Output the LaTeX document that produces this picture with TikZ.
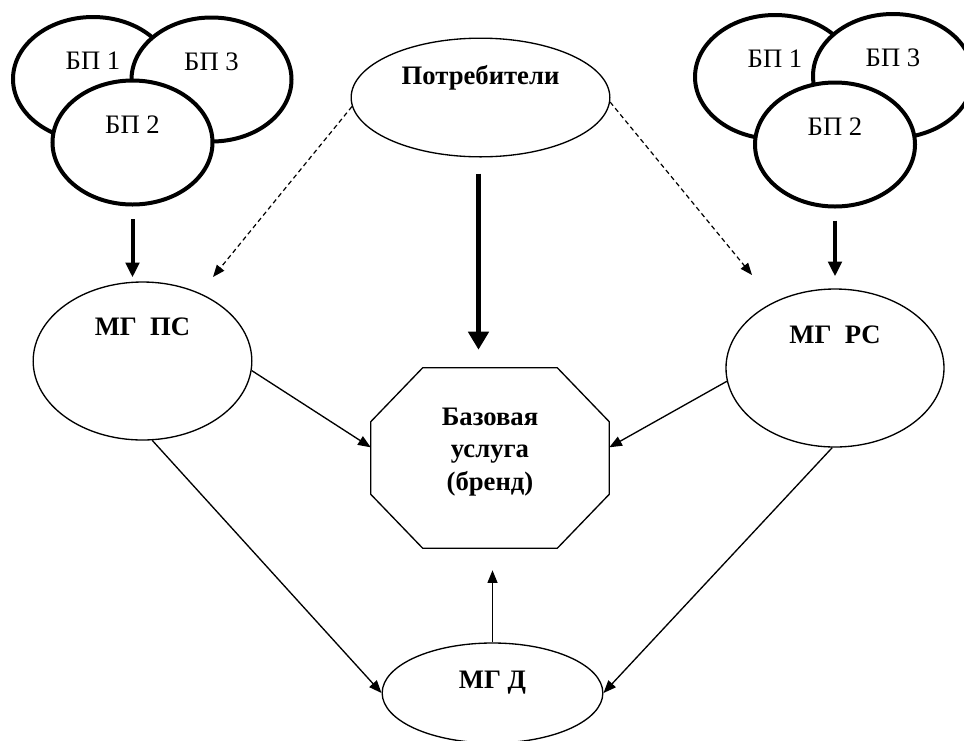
\documentclass[tikz,border=0pt]{standalone}
\usepackage{fontspec}
\setmainfont{Liberation Serif}
\newfontfamily\timesfont{Liberation Serif}
\usetikzlibrary{shapes.geometric,arrows.meta}

\begin{document}
\begin{tikzpicture}[x=0.75pt, y=-0.75pt,
    bp/.style={draw, ellipse, line width=3pt, fill=white, minimum width=120pt, minimum height=93pt, inner sep=0pt},
    mg/.style={draw, ellipse, line width=1pt, fill=white, inner sep=0pt},
    txt/.style={font=\timesfont\fontsize{20}{24}\selectfont},
    bold/.style={font=\timesfont\fontsize{20}{24.5}\selectfont\bfseries, align=center},
    thinarrow/.style={-{Triangle[length=9.5pt,width=7.5pt]}, line width=1pt},
    bigarrow/.style={-{Triangle[length=11pt,width=10pt]}, line width=3pt},
    hugearrow/.style={-{Triangle[length=13.5pt,width=15pt]}, line width=3.8pt},
    dasharrow/.style={-{Triangle[length=9pt,width=7pt]}, line width=0.9pt, dash pattern=on 3.5pt off 2.5pt}]
    \useasboundingbox (0,0) rectangle (964,740);
    % Left cluster
    \node [bp, label={[txt, yshift=13.5pt]center:БП 1}] (lb1) at (93,79) {};
    \node [bp, label={[txt, yshift=13.5pt]center:БП 3}] (lb3) at (211.5,79.5) {};
    \node [bp, label={[txt, yshift=13.5pt]center:БП 2}] (lb2) at (132.5,142.5) {};
    % Right cluster
    \node [bp, label={[txt, yshift=13.5pt]center:БП 1}] (rb1) at (775,77) {};
    \node [bp, label={[txt, yshift=13.5pt]center:БП 3}] (rb3) at (893,76) {};
    \node [bp, label={[txt, yshift=13.5pt]center:БП 2}] (rb2) at (835,144.5) {};
    % Main nodes
    \node [mg, minimum width=194pt, minimum height=89pt, label={[bold, yshift=14.5pt]center:Потребители}] (potr) at (480.5,97.5) {};
    \node [mg, minimum width=164pt, minimum height=118.5pt, label={[bold, yshift=25.5pt]center:МГ\ \ ПС}] (mgps) at (142.5,361) {};
    \node [mg, minimum width=163.5pt, minimum height=118.5pt, label={[bold, yshift=25pt]center:МГ\ \ РС}] (mgrs) at (835,368) {};
    \node [mg, minimum width=165.5pt, minimum height=75pt, label={[bold, yshift=8pt]center:МГ Д}] (mgd) at (492.5,693) {};
    \node [minimum width=178.5pt, minimum height=135pt, inner sep=0pt,
        label={[bold, yshift=4.5pt]center:Базовая\\услуга\\(бренд)}] (oct) at (490,458) {};
    \draw [line width=1pt] ([xshift=39pt]oct.north west) -- ([xshift=-39pt]oct.north east)
        -- ([yshift=-40.5pt]oct.north east) -- ([yshift=40.5pt]oct.south east)
        -- ([xshift=-39pt]oct.south east) -- ([xshift=39pt]oct.south west)
        -- ([yshift=40.5pt]oct.south west) -- ([yshift=-40.5pt]oct.north west) -- cycle;
    % Arrows
    \draw [bigarrow, shorten <=9.5pt, shorten >=3pt] (lb2.south) -- (lb2.south |- mgps.north);
    \draw [bigarrow, shorten <=9pt, shorten >=9pt] (rb2.south) -- (rb2.south |- mgrs.north);
    \draw [hugearrow, shorten <=12pt, shorten >=13.5pt] ([xshift=-1.5pt]potr.south) -- ([xshift=-1.5pt]potr.south |- oct.north);
    \coordinate (dl) at (213,277);
    \coordinate (dr) at (752,275);
    \draw [dasharrow] (potr.184) -- (dl);
    \draw [dasharrow] (potr.358) -- (dr);
    \draw [thinarrow] (mgps.-5) -- ([yshift=8pt]oct.west);
    \draw [thinarrow] (mgrs.187) -- ([yshift=8pt]oct.east);
    \draw [thinarrow] (mgps.277) -- (mgd.west);
    \draw [thinarrow] (mgrs.268) -- (mgd.east);
    \draw [thinarrow, shorten >=16.5pt] (mgd.north) -- (mgd.north |- oct.south);
\end{tikzpicture}
\end{document}
